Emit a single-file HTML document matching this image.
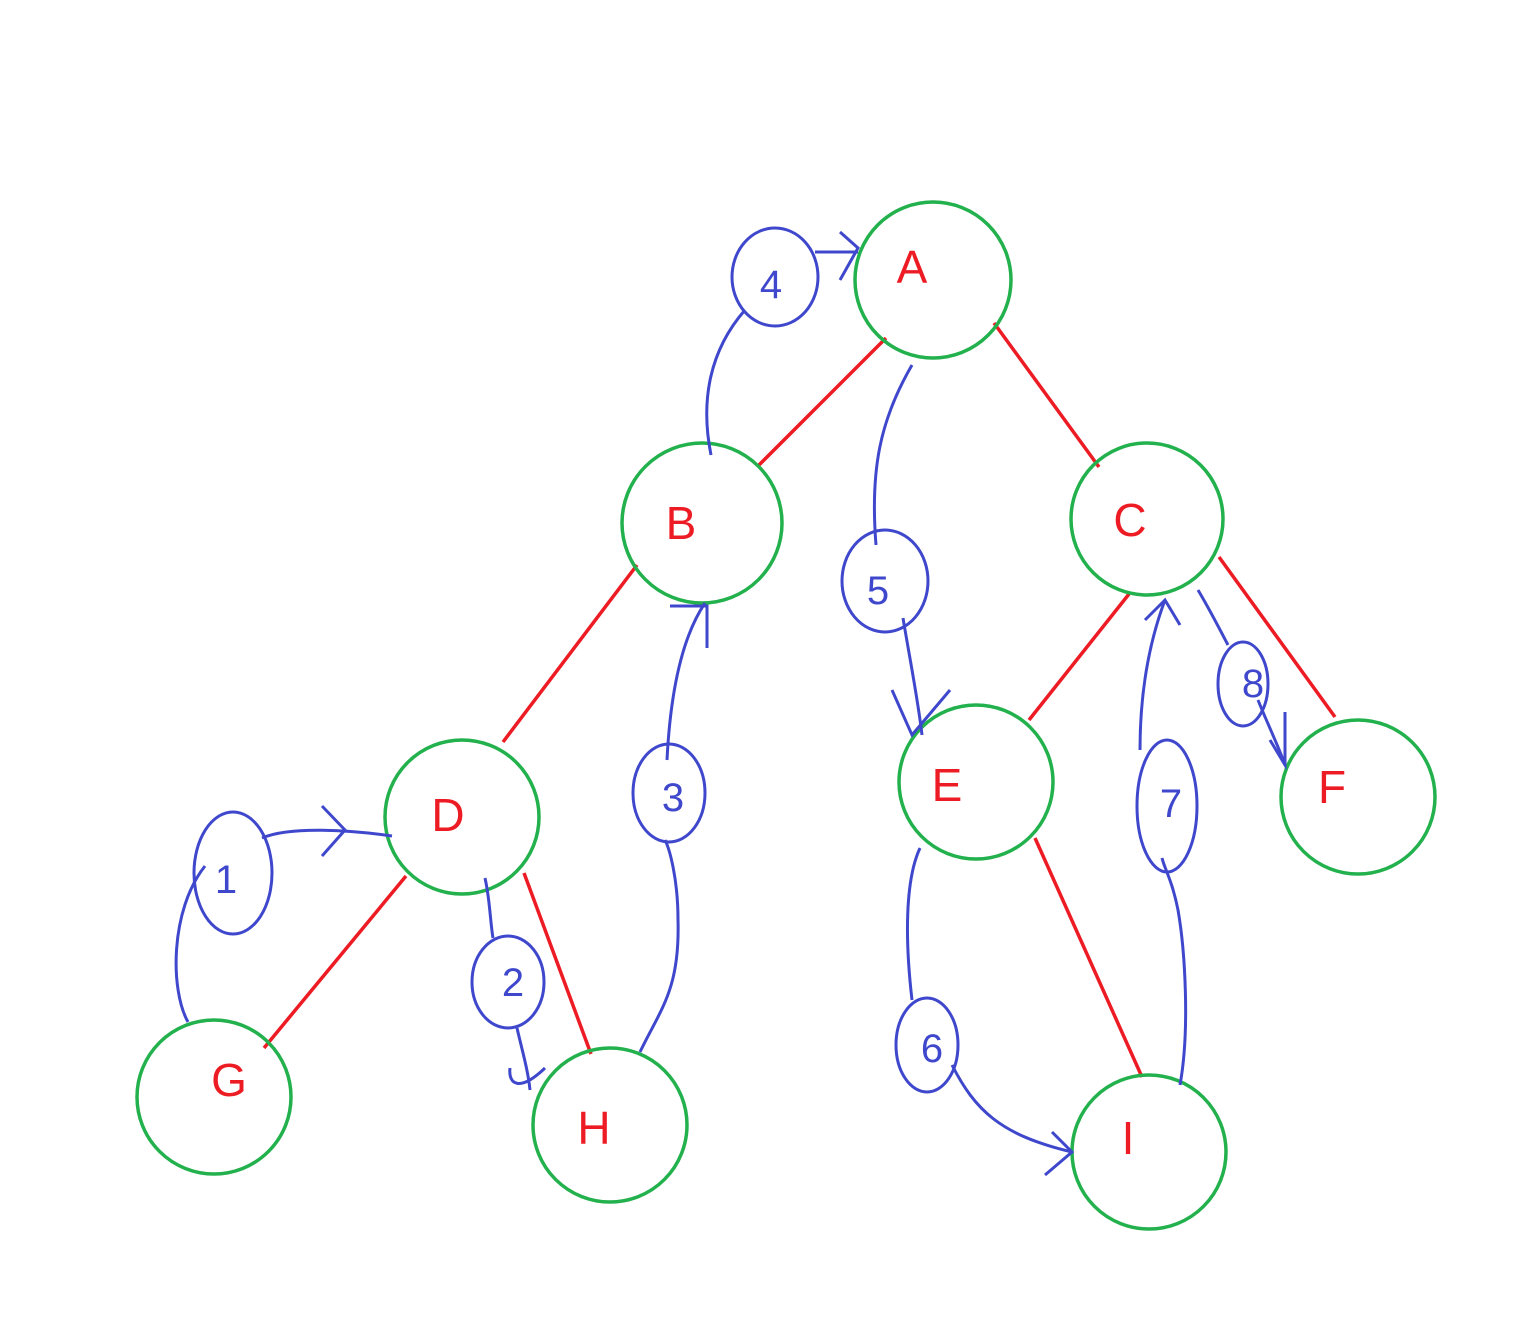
<!DOCTYPE html>
<html><head><meta charset="utf-8"><style>html,body{margin:0;padding:0;background:#fff}svg{display:block}</style></head>
<body>
<svg width="1517" height="1335" viewBox="0 0 1517 1335" xmlns="http://www.w3.org/2000/svg">
<rect width="1517" height="1335" fill="#fff"/>
<g stroke="#ed1c24" stroke-width="3.5" fill="none">
<line x1="886" y1="338" x2="758" y2="466"/>
<line x1="994" y1="323" x2="1099" y2="467"/>
<line x1="637" y1="565" x2="503" y2="742"/>
<line x1="406" y1="876" x2="264" y2="1048"/>
<line x1="524" y1="873" x2="591" y2="1054"/>
<line x1="1129" y1="594" x2="1029" y2="720"/>
<line x1="1219" y1="557" x2="1335" y2="717"/>
<line x1="1035" y1="838" x2="1142" y2="1077"/>
</g>
<g stroke="#22b14c" stroke-width="3.5" fill="none">
<circle cx="933" cy="280" r="78"/>
<circle cx="702" cy="523" r="80"/>
<circle cx="1147" cy="519" r="76"/>
<circle cx="462" cy="817" r="77"/>
<circle cx="976" cy="782" r="77"/>
<circle cx="1358" cy="797" r="77"/>
<circle cx="214" cy="1097" r="77"/>
<circle cx="610" cy="1125" r="77"/>
<circle cx="1149" cy="1152" r="77"/>
</g>
<g fill="#ed1c24" font-family="Liberation Sans, sans-serif" font-size="46" text-anchor="middle">
<text x="912" y="283">A</text>
<text x="681" y="539">B</text>
<text x="1130" y="536">C</text>
<text x="448" y="831">D</text>
<text x="947" y="801">E</text>
<text x="1332" y="803">F</text>
<text x="229" y="1096">G</text>
<text x="594" y="1144">H</text>
<text x="1128" y="1154">I</text>
</g>
<g stroke="#3f48cc" stroke-width="3" fill="none">
<ellipse cx="233" cy="873" rx="39" ry="61"/>
<ellipse cx="508" cy="982" rx="36" ry="46"/>
<ellipse cx="669" cy="793" rx="36" ry="49"/>
<ellipse cx="775" cy="277" rx="43" ry="49"/>
<ellipse cx="885" cy="581" rx="43" ry="51"/>
<ellipse cx="927" cy="1045" rx="31" ry="47"/>
<ellipse cx="1167" cy="806" rx="30" ry="66"/>
<ellipse cx="1243" cy="684" rx="25" ry="42"/>
<path d="M188 1022 C170 990 170 910 205 866"/>
<path d="M262 838 C290 826 350 830 392 836"/>
<path d="M322 806 L345 830 L322 856"/>
<path d="M485 878 C490 900 490 920 493 938"/>
<path d="M517 1028 C522 1050 528 1070 530 1090"/>
<path d="M510 1068 C508 1085 520 1092 545 1068"/>
<path d="M640 1052 C660 1010 680 990 678 920 C678 880 670 850 665 840"/>
<path d="M667 760 C670 700 680 640 705 603"/>
<path d="M670 606 L707 606 L707 648"/>
<path d="M711 455 C700 400 710 350 745 310"/>
<path d="M815 252 L858 252"/>
<path d="M840 232 L858 248 L840 280"/>
<path d="M912 365 C880 420 870 470 876 545"/>
<path d="M903 618 C910 660 918 700 922 735"/>
<path d="M892 690 L912 735 L950 690"/>
<path d="M920 848 C905 880 905 940 912 1000"/>
<path d="M952 1065 C975 1110 1000 1135 1072 1152"/>
<path d="M1052 1132 L1072 1152 L1045 1175"/>
<path d="M1180 1085 C1190 1030 1185 950 1178 910 C1172 880 1165 870 1162 858"/>
<path d="M1140 750 C1140 690 1150 640 1165 600"/>
<path d="M1145 620 L1165 600 L1180 625"/>
<path d="M1198 590 C1210 610 1220 630 1228 645"/>
<path d="M1258 700 C1268 725 1278 745 1285 765"/>
<path d="M1270 740 L1285 765 L1285 712"/>
</g>
<g fill="#3f48cc" font-family="Liberation Sans, sans-serif" font-size="40" text-anchor="middle">
<text x="226" y="893">1</text>
<text x="513" y="996">2</text>
<text x="673" y="811">3</text>
<text x="771" y="298">4</text>
<text x="878" y="604">5</text>
<text x="932" y="1062">6</text>
<text x="1171" y="817">7</text>
<text x="1253" y="697">8</text>
</g>
</svg>
</body></html>
